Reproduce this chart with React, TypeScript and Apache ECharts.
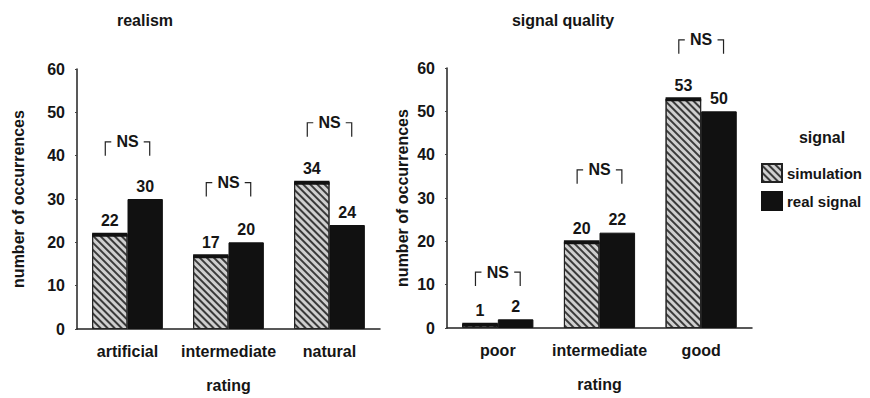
import React, { useEffect, useRef } from "react";
import * as echarts from "echarts";

const realismCats = ["artificial", "intermediate", "natural"];
const realismSim = [22, 17, 34];
const realismReal = [30, 20, 24];
const realismNS = [43.2, 33.8, 47.6];

const qualityCats = ["poor", "intermediate", "good"];
const qualitySim = [1, 20, 53];
const qualityReal = [2, 22, 50];
const qualityNS = [12.9, 36.5, 66.5];

const seriesNames = ["simulation", "real signal"];
const yMin = 0;
const yMax = 60;
const yStep = 10;

const FONT = '"Liberation Sans", Arial, Helvetica, sans-serif';
const INK = "#151515";

export default function App() {
  const ref = useRef<HTMLDivElement>(null);
  useEffect(() => {
    if (!ref.current) return;
    const chart = echarts.init(ref.current, undefined, { renderer: "svg" });

    const simStyle = {
      color: "#cfcfcf",
      borderColor: "#222",
      borderWidth: 1,
      decal: {
        symbol: "rect",
        symbolSize: 1,
        color: "#3a3a3a",
        dashArrayX: [1, 0],
        dashArrayY: [1.4, 2.2],
        rotation: Math.PI / 4,
      },
    };
    const realStyle = { color: "#111", borderColor: "#111", borderWidth: 1 };
    const labelStyle = {
      show: true,
      position: "top",
      distance: 5,
      color: INK,
      fontSize: 16,
      fontWeight: "bold",
      fontFamily: FONT,
    };

    const xAxisBase = (cats: string[], idx: number) => ({
      type: "category",
      gridIndex: idx,
      data: cats,
      name: "rating",
      nameLocation: "middle",
      nameGap: 48,
      nameTextStyle: { color: INK, fontSize: 16, fontWeight: "bold", fontFamily: FONT },
      axisLine: { lineStyle: { color: "#222", width: 1.5 } },
      axisTick: { show: false },
      axisLabel: { interval: 0, color: INK, fontSize: 16, fontWeight: "bold", fontFamily: FONT, margin: 14 },
    });
    const yAxisBase = (idx: number, gap: number) => ({
      type: "value",
      gridIndex: idx,
      min: yMin,
      max: yMax,
      interval: yStep,
      name: "number of occurrences",
      nameLocation: "middle",
      nameGap: gap,
      nameRotate: 90,
      nameTextStyle: { color: INK, fontSize: 16, fontWeight: "bold", fontFamily: FONT },
      axisLine: { show: true, lineStyle: { color: "#222", width: 1.5 } },
      axisTick: { show: true, length: 2, lineStyle: { color: "#444" } },
      splitLine: { show: false },
      axisLabel: { color: INK, fontSize: 16, fontWeight: "bold", fontFamily: FONT, margin: 12 },
    });

    const capRender = (params: any, api: any) => {
      const c = api.coord([api.value(0), api.value(1)]);
      const band = api.size([1, 0])[0];
      const w = band * 0.35;
      return {
        type: "rect",
        shape: { x: c[0] - w, y: c[1] - 1, width: w, height: 4 },
        style: { fill: "#111" },
      };
    };
    const nsRender = (params: any, api: any) => {
      const c = api.coord([api.value(0), api.value(1)]);
      const band = api.size([1, 0])[0];
      const half = band * 0.22;
      const leg = 14;
      const x0 = c[0] - half;
      const x1 = c[0] + half;
      const y = c[1];
      const ls = { stroke: "#222", lineWidth: 1.2, fill: null };
      return {
        type: "group",
        children: [
          { type: "polyline", shape: { points: [[x0, y + leg], [x0, y], [x0 + 6, y]] }, style: ls },
          { type: "polyline", shape: { points: [[x1 - 6, y], [x1, y], [x1, y + leg]] }, style: ls },
          {
            type: "text",
            x: c[0],
            y: y,
            style: {
              text: "NS",
              fill: INK,
              fontSize: 16,
              fontWeight: "bold",
              fontFamily: FONT,
              align: "center",
              verticalAlign: "middle",
            },
          },
        ],
      };
    };

    const barSeries = (idx: number, sim: number[], real: number[], ns: number[]) => [
      {
        type: "bar",
        name: seriesNames[0],
        xAxisIndex: idx,
        yAxisIndex: idx,
        data: sim,
        barGap: "0%",
        barCategoryGap: "30%",
        itemStyle: simStyle,
        label: labelStyle,
      },
      {
        type: "bar",
        name: seriesNames[1],
        xAxisIndex: idx,
        yAxisIndex: idx,
        data: real,
        barGap: "0%",
        barCategoryGap: "30%",
        itemStyle: realStyle,
        label: labelStyle,
      },
      {
        type: "custom",
        name: "cap" + idx,
        xAxisIndex: idx,
        yAxisIndex: idx,
        data: sim.map((v, i) => [i, v]),
        renderItem: capRender,
        z: 5,
        silent: true,
      },
      {
        type: "custom",
        name: "ns" + idx,
        xAxisIndex: idx,
        yAxisIndex: idx,
        data: ns.map((v, i) => [i, v]),
        renderItem: nsRender,
        z: 5,
        silent: true,
      },
    ];

    const textG = (text: string, x: number, y: number) => ({
      type: "text",
      x,
      y,
      style: {
        text,
        fill: INK,
        fontSize: 16,
        fontWeight: "bold",
        fontFamily: FONT,
        align: "center",
        verticalAlign: "middle",
      },
    });

    chart.setOption({
      animation: false,
      backgroundColor: "#fff",
      textStyle: { fontFamily: FONT },
      graphic: [textG("realism", 145, 20), textG("signal quality", 563, 20), textG("signal", 822, 137)],
      legend: {
        data: seriesNames,
        orient: "vertical",
        left: 756,
        top: 158,
        itemWidth: 20,
        itemHeight: 18,
        itemGap: 8,
        icon: "rect",
        selectedMode: false,
        textStyle: { color: INK, fontSize: 15, fontWeight: "bold", fontFamily: FONT },
      },
      grid: [
        { left: 77, right: 490, top: 69, bottom: 68 },
        { left: 447, right: 118, top: 68, bottom: 70 },
      ],
      xAxis: [xAxisBase(realismCats, 0), xAxisBase(qualityCats, 1)],
      yAxis: [yAxisBase(0, 51), yAxisBase(1, 37)],
      series: [
        ...barSeries(0, realismSim, realismReal, realismNS),
        ...barSeries(1, qualitySim, qualityReal, qualityNS),
      ],
    });
    return () => chart.dispose();
  }, []);
  return (
    <div
      ref={ref}
      style={{ position: "absolute", left: 0, top: 0, width: 870, height: 398 }}
    />
  );
}
